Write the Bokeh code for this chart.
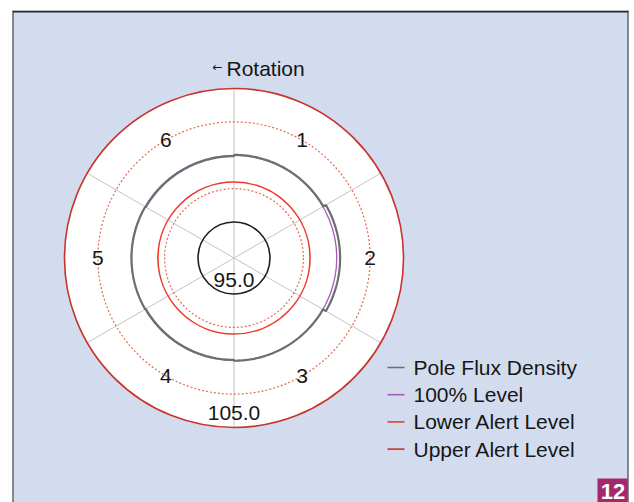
import numpy as np
from bokeh.plotting import figure
from bokeh.models import Range1d, Span
from bokeh.core.properties import value
from bokeh.embed import file_html
from bokeh.resources import INLINE

# ---- data ----
pole_labels = ["1", "2", "3", "4", "5", "6"]
pole_center_deg = [60, 0, -60, -120, 180, 120]
pole_flux = [100.03, 100.25, 100.0, 99.93, 99.98, 99.93]
level_100 = 100.0
lower_alert = 98.0
upper_alert = 105.0
grid_levels = [97.5, 102.5]
inner_level = 95.0
radial_tick_labels = ["95.0", "105.0"]
radial_tick_values = [95.0, 105.0]
spoke_deg = [90, 30, -30, -90, -150, 150]
legend_labels = ["Pole Flux Density", "100% Level", "Lower Alert Level", "Upper Alert Level"]
legend_colors = ["#6e6e6e", "#a45cb8", "#ee3a2c", "#c8342c"]

FONT = value("Liberation Sans")
BG = "#d3dcef"
TXT = "#161616"

# radial scale (value -> px)
R0 = 36.0
K = 13.35
def rad(v):
    return R0 + K * (np.asarray(v, dtype=float) - inner_level)

# frame: page x 12..628, y 10..502 ; chart center at page (233.5, 257.5)
cx, cy = 233.5, 257.5
p = figure(width=634, height=502, output_backend="svg", toolbar_location=None,
           x_axis_location=None, y_axis_location=None,
           x_range=Range1d(12 - cx, 628 - cx), y_range=Range1d(cy - 502, cy - 10),
           min_border_left=12, min_border_right=6, min_border_top=10, min_border_bottom=0,
           background_fill_color=BG, border_fill_color="white", outline_line_color=None)
p.grid.visible = False

# white disk
p.circle(x=[0], y=[0], radius=[float(rad(upper_alert))], fill_color="white", line_color=None)

# spokes
sa = np.radians(spoke_deg)
ro = float(rad(upper_alert))
p.segment(x0=np.zeros(len(sa)), y0=np.zeros(len(sa)), x1=ro * np.cos(sa), y1=ro * np.sin(sa),
          line_color="#c4c4c4", line_width=1)

# dotted grid rings
p.circle(x=[0] * len(grid_levels), y=[0] * len(grid_levels), radius=list(rad(grid_levels)),
         fill_color=None, line_color="#e66a50", line_width=1.2, line_dash="2 2")

# 95 ring
p.circle(x=[0], y=[0], radius=[float(rad(inner_level))], fill_color=None, line_color="#1e1e1e", line_width=1.6)

# lower alert
p.circle(x=[0], y=[0], radius=[float(rad(lower_alert))], fill_color=None, line_color=legend_colors[2], line_width=1.6)

# 100 % level
p.circle(x=[0], y=[0], radius=[float(rad(level_100))], fill_color=None, line_color=legend_colors[1], line_width=1.3)

# pole flux density (step per pole)
xs, ys = [], []
for c, v in zip(pole_center_deg, pole_flux):
    th = np.radians(np.linspace(c + 30, c - 30, 60))
    r = float(rad(v))
    xs.extend(r * np.cos(th)); ys.extend(r * np.sin(th))
xs.append(xs[0]); ys.append(ys[0])
p.line(xs, ys, line_color=legend_colors[0], line_width=2.2)

# upper alert (outer ring)
p.circle(x=[0], y=[0], radius=[float(rad(upper_alert))], fill_color=None, line_color=legend_colors[3], line_width=1.6)

# pole labels
pa = np.radians(pole_center_deg)
rl = float(rad(grid_levels[1]))
p.text(x=rl * np.cos(pa), y=rl * np.sin(pa), text=pole_labels, text_font=FONT,
       text_font_size="21px", text_color=TXT, text_align="center", text_baseline="middle")

# radial tick labels (just inside their rings, at the bottom)
p.text(x=[0] * len(radial_tick_values), y=-(rad(radial_tick_values) - 14.5), text=radial_tick_labels,
       text_font=FONT, text_font_size="21px", text_color=TXT,
       text_align="center", text_baseline="middle")

# rotation label
p.text(x=[226 - cx], y=[cy - 67.5], text=["Rotation"], text_font=FONT, text_font_size="21px",
       text_color=TXT, text_align="left", text_baseline="middle")
p.text(x=[222 - cx], y=[cy - 66.5], text=["\u2190"], text_font=value("DejaVu Sans"), text_font_size="12px",
       text_color=TXT, text_align="right", text_baseline="middle")

# legend
ly = cy - (367 + 27.2 * np.arange(len(legend_labels)))
p.segment(x0=[387 - cx] * 4, y0=ly, x1=[404 - cx] * 4, y1=ly, line_color=legend_colors, line_width=1.6)
p.text(x=[413 - cx] * 4, y=ly, text=legend_labels, text_font=FONT, text_font_size="21px",
       text_color=TXT, text_align="left", text_baseline="middle")

# badge
p.quad(left=[597 - cx], right=[627 - cx], top=[cy - 478], bottom=[cy - 503], fill_color="#a3286c", line_color=None)
p.text(x=[612.5 - cx], y=[cy - 490.5], text=["12"], text_font=FONT, text_font_size="22px",
       text_font_style="bold", text_color="white", text_align="center", text_baseline="middle")

# frame border (left, top, right)
for loc, dim in [(12 - cx, "height"), (cy - 11, "width"), (628 - cx, "height")]:
    p.add_layout(Span(location=loc, dimension=dim, line_color="#2a2a2a", line_width=2))

open("out.html", "w").write(file_html(p, INLINE))
